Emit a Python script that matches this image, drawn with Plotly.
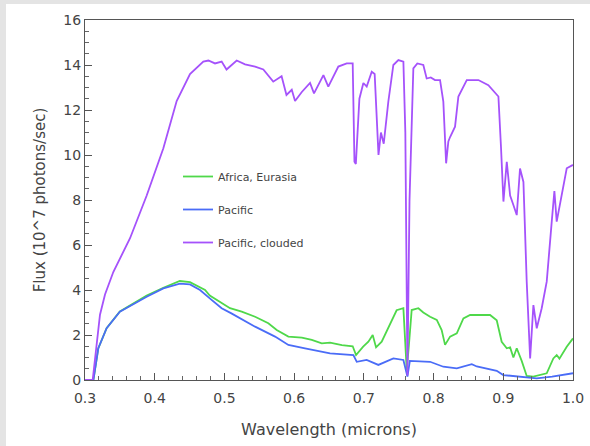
import plotly.graph_objects as go

# ---- data ----
wl_africa = [0.300, 0.312, 0.319, 0.331, 0.350, 0.3885, 0.4124, 0.436, 0.4506, 0.465, 0.4722, 0.479,
             0.496, 0.508, 0.5248, 0.544, 0.563, 0.575, 0.5917, 0.611, 0.6253, 0.6396, 0.6515, 0.6685,
             0.684, 0.6888, 0.699, 0.7065, 0.7127, 0.7175, 0.7256, 0.7304, 0.7375, 0.747, 0.7567, 0.7615,
             0.7645, 0.7686, 0.7782, 0.7853, 0.795, 0.8046, 0.8116, 0.8165, 0.8237, 0.8333, 0.8428, 0.8524,
             0.881, 0.8906, 0.8977, 0.905, 0.9098, 0.9145, 0.9193, 0.9264, 0.9336, 0.943, 0.9623, 0.9718,
             0.9766, 0.9805, 0.991, 1.0]
flux_africa = [0, 0, 1.4, 2.3, 3.05, 3.75, 4.1, 4.4, 4.35, 4.1, 4.0, 3.75,
               3.4, 3.19, 3.04, 2.81, 2.52, 2.22, 1.93, 1.88, 1.78, 1.63, 1.66, 1.55,
               1.5, 1.11, 1.48, 1.7, 2.0, 1.45, 1.7, 2.0, 2.5, 3.1, 3.19, 0.44,
               1.5, 3.11, 3.19, 3.0, 2.81, 2.67, 2.22, 1.56, 1.93, 2.07, 2.74, 2.89,
               2.89, 2.65, 1.7, 1.41, 1.45, 1.0, 1.41, 0.85, 0.18, 0.15, 0.3, 0.96,
               1.11, 0.95, 1.48, 1.85]

wl_pacific = [0.300, 0.312, 0.319, 0.331, 0.350, 0.3885, 0.4124, 0.436, 0.4506, 0.465, 0.479, 0.496,
              0.51, 0.544, 0.5726, 0.5917, 0.6156, 0.6396, 0.6515, 0.685, 0.6898, 0.704, 0.7208, 0.7423,
              0.7567, 0.7625, 0.766, 0.795, 0.814, 0.8333, 0.8548, 0.862, 0.8906, 0.9, 0.931, 0.948,
              0.97, 1.0]
flux_pacific = [0, 0, 1.4, 2.3, 3.04, 3.7, 4.07, 4.28, 4.25, 4.0, 3.63, 3.19,
                2.96, 2.37, 1.93, 1.56, 1.41, 1.26, 1.18, 1.11, 0.81, 0.89, 0.67, 0.96,
                0.89, 0.15, 0.85, 0.81, 0.59, 0.52, 0.7, 0.6, 0.41, 0.22, 0.12, 0.07,
                0.15, 0.3]

wl_clouded = [0.300, 0.311, 0.3215, 0.3287, 0.3406, 0.3646, 0.3885, 0.4124, 0.4315, 0.4506, 0.4697, 0.477,
              0.4865, 0.496, 0.503, 0.5176, 0.5296, 0.544, 0.5558, 0.570, 0.582, 0.589, 0.5966, 0.6013,
              0.611, 0.6228, 0.6285, 0.642, 0.649, 0.6634, 0.6754, 0.684, 0.6865, 0.6885, 0.6936, 0.6993,
              0.7041, 0.7113, 0.7155, 0.7185, 0.721, 0.7245, 0.7285, 0.7351, 0.7423, 0.7495, 0.7567, 0.7595,
              0.7625, 0.7655, 0.771, 0.7767, 0.7853, 0.7901, 0.796, 0.802, 0.8093, 0.814, 0.818, 0.8212,
              0.8237, 0.8308, 0.8356, 0.8476, 0.8643, 0.8786, 0.893, 0.8968, 0.9002, 0.905, 0.9098, 0.9145,
              0.9193, 0.924, 0.9289, 0.9336, 0.9385, 0.9432, 0.948, 0.9551, 0.9623, 0.9695, 0.9733, 0.9766,
              0.9838, 0.991, 1.0]
flux_clouded = [0, 0, 2.9, 3.8, 4.8, 6.3, 8.2, 10.3, 12.4, 13.6, 14.15, 14.2,
                14.07, 14.15, 13.8, 14.2, 14.03, 13.93, 13.8, 13.26, 13.5, 12.67, 12.9, 12.4,
                12.8, 13.2, 12.74, 13.55, 13.04, 13.93, 14.07, 14.07, 9.7, 9.6, 12.5, 13.2,
                13.04, 13.7, 13.6, 11.8, 10.0, 11.0, 10.5, 12.37, 14.0, 14.22, 14.15, 11.0,
                0.2, 8.0, 13.85, 14.07, 14.0, 13.4, 13.45, 13.33, 13.33, 12.37, 9.63, 10.6,
                10.8, 11.26, 12.6, 13.33, 13.33, 13.1, 12.6, 10.3, 7.93, 9.7, 8.2, 7.78,
                7.33, 9.4, 8.8, 4.37, 0.96, 3.33, 2.3, 3.19, 4.37, 7.04, 8.4, 7.04,
                8.3, 9.41, 9.56]

series_names = ["Africa, Eurasia", "Pacific", "Pacific, clouded"]
series_colors = ["#4fd84a", "#4a6cf7", "#a552fb"]

x_ticks = [0.3, 0.4, 0.5, 0.6, 0.7, 0.8, 0.9, 1.0]
y_ticks = [0, 2, 4, 6, 8, 10, 12, 14, 16]

# ---- figure ----
fig = go.Figure()
data = [(wl_africa, flux_africa), (wl_pacific, flux_pacific), (wl_clouded, flux_clouded)]
for i, ((wx, fy), name, col) in enumerate(zip(data, series_names, series_colors)):
    fig.add_trace(go.Scatter(x=wx, y=fy, mode="lines", name=name,
                             line=dict(color=col, width=1.8), legendgroup=f"g{i}"))

W, H = 590, 446
L, R, T, B = 85, 17, 20, 66
pw, ph = W - L - R, H - T - B

def px_x(p):
    return (p - L) / pw

def px_y(p):
    return (H - B - p) / ph

# light shadow frame around the chart (top and left edges)
fig.add_shape(type="rect", xref="paper", yref="paper",
              x0=px_x(6), x1=px_x(W), y0=px_y(H), y1=px_y(4),
              fillcolor="white", line=dict(width=0), layer="below")

axis_common = dict(showgrid=False, zeroline=False, showline=True, linecolor="#555555",
                   linewidth=1.2, mirror=True, ticks="inside", tickcolor="#555555",
                   ticklen=7, tickwidth=1.2, automargin=False,
                   tickfont=dict(family="DejaVu Sans", size=14, color="#444444"))

fig.update_xaxes(range=[0.3, 1.0], tickvals=x_ticks, tickformat=".1f", ticklabelstandoff=5,
                 minor=dict(dtick=0.02, ticks="inside", ticklen=4, tickcolor="#666666", tickwidth=1),
                 title=dict(text="Wavelength (microns)", font=dict(family="DejaVu Sans", size=16, color="#444444"),
                            standoff=18),
                 **axis_common)
fig.update_yaxes(range=[0, 16], tickvals=y_ticks,
                 minor=dict(dtick=0.5, ticks="inside", ticklen=4, tickcolor="#666666", tickwidth=1),
                 title=dict(text="Flux (10^7 photons/sec)", font=dict(family="DejaVu Sans", size=15, color="#444444"),
                            standoff=14),
                 **axis_common)

fig.update_layout(
    width=W, height=H,
    margin=dict(l=L, r=R, t=T, b=B, autoexpand=False),
    paper_bgcolor="#e4e4e4",
    plot_bgcolor="white",
    legend=dict(x=px_x(178), y=px_y(162), xanchor="left", yanchor="top",
                bgcolor="rgba(0,0,0,0)", font=dict(family="DejaVu Sans", size=11, color="#444444"),
                tracegroupgap=14, traceorder="grouped"),
)

fig.write_html("out.html")
